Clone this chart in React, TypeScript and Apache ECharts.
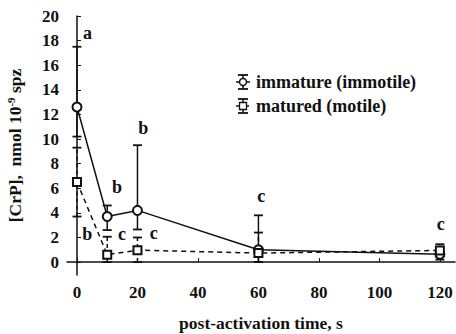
import React, { useEffect, useRef } from "react";
import * as echarts from "echarts";

const times = [0, 10, 20, 60, 120];
const immatureMean = [12.6, 3.7, 4.2, 1.0, 0.63];
const immatureLow = [10.2, 2.6, 2.65, 0.0, 0.2];
const immatureHigh = [17.5, 4.6, 9.5, 3.8, 1.1];
const maturedMean = [6.5, 0.6, 0.97, 0.73, 0.95];
const maturedLow = [3.7, 0.0, 0.0, 0.0, 0.45];
const maturedHigh = [9.3, 2.06, 2.0, 2.4, 1.45];
const letters = ["a", "b", "b", "b", "c", "c", "c", "c"];
const letterX = [3.5, 21.9, 13.2, 3.4, 14.9, 25.4, 60.9, 120.3];
const letterY = [18.6, 10.9, 6.1, 2.3, 2.3, 2.4, 5.4, 3.1];
const xTicks = [0, 20, 40, 60, 80, 100, 120];
const yTicks = [0, 2, 4, 6, 8, 10, 12, 14, 16, 18, 20];

const FONT = "'Liberation Serif', 'DejaVu Serif', serif";

function errorSeries(name: string, lows: number[], highs: number[], dashed: boolean) {
  const data = times.map((t, i) => [t, lows[i], highs[i]]);
  return {
    type: "custom",
    name,
    silent: true,
    z: 3,
    renderItem: (params: any, api: any) => {
      const x = api.value(0);
      const lo = api.coord([x, api.value(1)]);
      const hi = api.coord([x, api.value(2)]);
      const hw = 4.5;
      const style = { stroke: "#111", lineWidth: 1.5, lineDash: dashed ? [4, 3] : null };
      const cap = { stroke: "#111", lineWidth: 1.8 };
      return {
        type: "group",
        children: [
          { type: "line", shape: { x1: lo[0], y1: lo[1], x2: hi[0], y2: hi[1] }, style },
          { type: "line", shape: { x1: hi[0] - hw, y1: hi[1], x2: hi[0] + hw, y2: hi[1] }, style: cap },
          { type: "line", shape: { x1: lo[0] - hw, y1: lo[1], x2: lo[0] + hw, y2: lo[1] }, style: cap },
        ],
      };
    },
    data,
  };
}

export default function App() {
  const ref = useRef<HTMLDivElement>(null);
  useEffect(() => {
    if (!ref.current) return;
    const chart = echarts.init(ref.current, null, { renderer: "svg" });
    const labelData = letters.map((l, i) => [letterX[i], letterY[i], i]);
    const legendX = 243;
    const legendRow = (y: number, dashed: boolean, square: boolean, text: string) => {
      const ls = { stroke: "#111", lineWidth: 1.5, lineDash: dashed ? [3, 2] : null };
      return [
        { type: "line", shape: { x1: legendX, y1: y - 7, x2: legendX, y2: y + 7 }, style: ls },
        { type: "line", shape: { x1: legendX - 5, y1: y - 7, x2: legendX + 5, y2: y - 7 }, style: { stroke: "#111", lineWidth: 1.8 } },
        { type: "line", shape: { x1: legendX - 5, y1: y + 7, x2: legendX + 5, y2: y + 7 }, style: { stroke: "#111", lineWidth: 1.8 } },
        { type: "line", shape: { x1: legendX - 7, y1: y, x2: legendX + 7, y2: y }, style: ls },
        square
          ? { type: "rect", shape: { x: legendX - 3.5, y: y - 3.5, width: 7, height: 7 }, style: { fill: "#fff", stroke: "#111", lineWidth: 1.3 } }
          : { type: "circle", shape: { cx: legendX, cy: y, r: 3.5 }, style: { fill: "#fff", stroke: "#111", lineWidth: 1.5 } },
        { type: "text", x: legendX + 13, y, style: { text, font: `bold 18px ${FONT}`, fill: "#111", verticalAlign: "middle" } },
      ];
    };
    chart.setOption({
      animation: false,
      grid: { left: 67, right: 1, top: 16, bottom: 59, containLabel: false, outerBoundsMode: "none" },
      xAxis: {
        type: "value",
        min: -3.3,
        max: 125,
        name: "post-activation time, s",
        nameLocation: "middle",
        nameGap: 39,
        nameTextStyle: { fontFamily: FONT, fontWeight: "bold", fontSize: 17.5, color: "#111" },
        axisLine: { lineStyle: { color: "#111", width: 1.5 } },
        axisTick: { inside: true, length: 4, customValues: xTicks, lineStyle: { color: "#111" } },
        axisLabel: { customValues: xTicks, fontFamily: FONT, fontWeight: "bold", fontSize: 17, color: "#111", margin: 9 },
        splitLine: { show: false },
      },
      yAxis: {
        type: "value",
        min: -1.05,
        max: 20,
        name: "{n|[CrP],  nmol 10}{s|-9}{n| spz}",
        nameLocation: "middle",
        nameGap: 42,
        nameTextStyle: {
          rich: {
            n: { fontFamily: FONT, fontWeight: "bold", fontSize: 17.5, color: "#111" },
            s: { fontFamily: FONT, fontWeight: "bold", fontSize: 11, color: "#111", verticalAlign: "top", padding: [0, 0, 9, 0] },
          },
        },
        axisLine: { show: true, lineStyle: { color: "#111", width: 1.5 } },
        axisTick: { show: true, inside: true, length: 4, customValues: yTicks, lineStyle: { color: "#111" } },
        axisLabel: { customValues: yTicks, fontFamily: FONT, fontWeight: "bold", fontSize: 17, color: "#111", margin: 8 },
        splitLine: { show: false },
      },
      graphic: [...legendRow(82, false, false, "immature (immotile)"), ...legendRow(106, true, true, "matured (motile)")],
      series: [
        errorSeries("immErr", immatureLow, immatureHigh, false),
        errorSeries("matErr", maturedLow, maturedHigh, true),
        {
          type: "line",
          name: "immature (immotile)",
          data: times.map((t, i) => [t, immatureMean[i]]),
          symbol: "emptyCircle",
          symbolSize: 9,
          lineStyle: { color: "#111", width: 1.5 },
          itemStyle: { color: "#111", borderWidth: 1.3 },
          z: 5,
        },
        {
          type: "line",
          name: "matured (motile)",
          data: times.map((t, i) => [t, maturedMean[i]]),
          symbol: "emptyRect",
          symbolSize: 8,
          lineStyle: { color: "#111", width: 1.5, type: [5, 4] },
          itemStyle: { color: "#111", borderWidth: 1.3 },
          z: 5,
        },
        {
          type: "custom",
          silent: true,
          z: 6,
          data: labelData,
          renderItem: (params: any, api: any) => {
            const p = api.coord([api.value(0), api.value(1)]);
            return {
              type: "text",
              x: p[0],
              y: p[1],
              style: {
                text: letters[api.value(2)],
                font: `bold 18px ${FONT}`,
                fill: "#111",
                align: "center",
                verticalAlign: "middle",
              },
            };
          },
        },
      ],
    });
    return () => chart.dispose();
  }, []);
  return <div ref={ref} style={{ width: 456, height: 334, position: "absolute", left: 0, top: 0 }} />;
}
